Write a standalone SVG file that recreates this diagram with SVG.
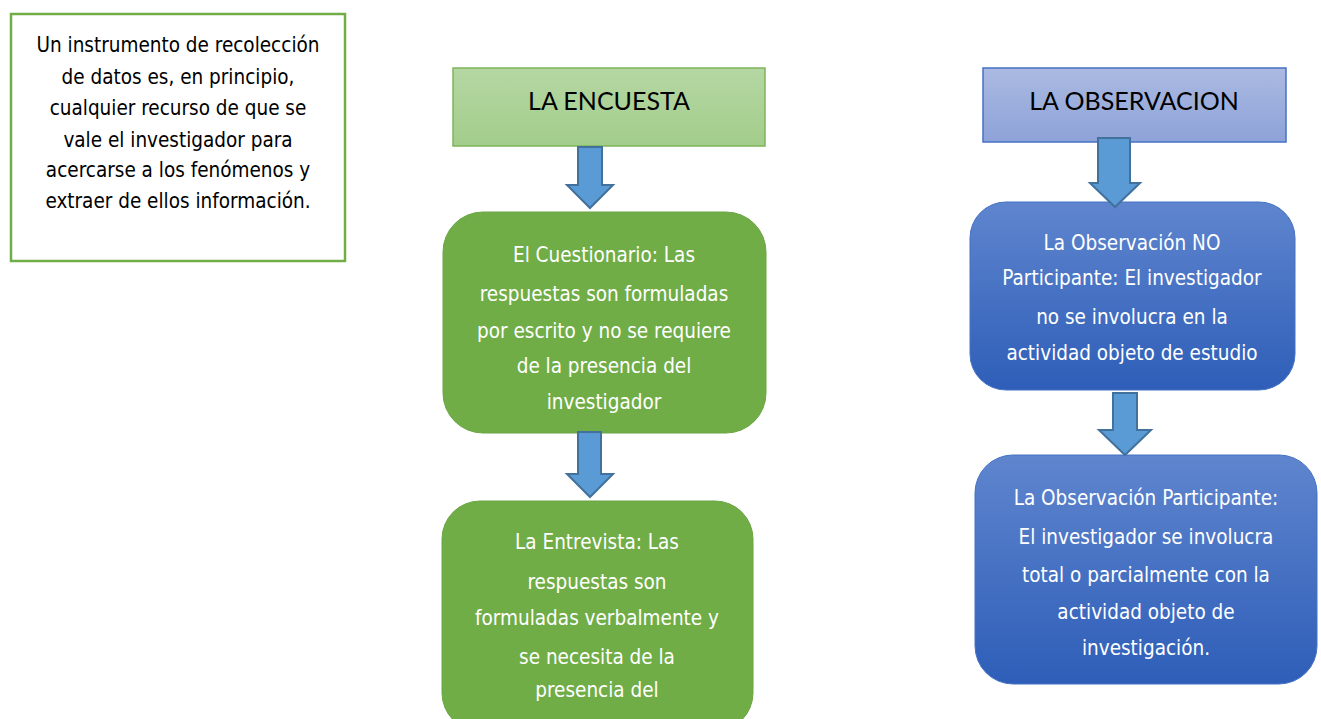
<svg xmlns="http://www.w3.org/2000/svg" width="1321" height="719" viewBox="0 0 1321 719">
<defs>
<linearGradient id="gGreenHead" x1="0" y1="0" x2="0" y2="1"><stop offset="0" stop-color="#B5D7A3"/><stop offset="1" stop-color="#A3CD8B"/></linearGradient>
<linearGradient id="gBlueHead" x1="0" y1="0" x2="0" y2="1"><stop offset="0" stop-color="#ABBAE2"/><stop offset="1" stop-color="#8DA2D8"/></linearGradient>
<linearGradient id="gBlue" x1="0" y1="0" x2="0" y2="1"><stop offset="0" stop-color="#5F85CE"/><stop offset="1" stop-color="#2E5EB8"/></linearGradient>
</defs>
<style>
.cond{font-family:"Liberation Sans Narrow","DejaVu Sans Condensed","DejaVu Sans",sans-serif;font-stretch:condensed;text-anchor:middle;dominant-baseline:central}
.intro{font-size:20.5px;fill:#000}
.wt{font-size:20.5px;fill:#fff}
.head{font-family:"Lato","Open Sans",sans-serif;font-size:25px;fill:#000;text-anchor:middle;dominant-baseline:central}
.arrow{fill:#5B9BD5;stroke:#41719C;stroke-width:2;stroke-linejoin:miter}
</style>
<rect width="1321" height="719" fill="#fff"/>
<g id="intro">
<rect x="11" y="14" width="334" height="247" fill="#fff" stroke="#70AD47" stroke-width="2.5"/>
<text class="cond intro" x="178" y="45">Un instrumento de recolección</text>
<text class="cond intro" x="178" y="77">de datos es, en principio,</text>
<text class="cond intro" x="178" y="108">cualquier recurso de que se</text>
<text class="cond intro" x="178" y="140">vale el investigador para</text>
<text class="cond intro" x="178" y="170">acercarse a los fenómenos y</text>
<text class="cond intro" x="178" y="201">extraer de ellos información.</text>
</g>
<g id="encuesta">
<rect x="453" y="68" width="312" height="78" fill="url(#gGreenHead)" stroke="#7DB55A" stroke-width="1.5"/>
<text class="head" x="609" y="100">LA ENCUESTA</text>
</g>
<g id="cuestionario">
<rect x="443" y="212" width="323" height="221" rx="40" fill="#70AD47" stroke="#6AA544" stroke-width="1"/>
<text class="cond wt" x="604" y="255">El Cuestionario: Las</text>
<text class="cond wt" x="604" y="294">respuestas son formuladas</text>
<text class="cond wt" x="604" y="331">por escrito y no se requiere</text>
<text class="cond wt" x="604" y="366">de la presencia del</text>
<text class="cond wt" x="604" y="402">investigador</text>
</g>
<g id="entrevista">
<rect x="442" y="501" width="311" height="230" rx="38" fill="#70AD47" stroke="#6AA544" stroke-width="1"/>
<text class="cond wt" x="597" y="542">La Entrevista: Las</text>
<text class="cond wt" x="597" y="582">respuestas son</text>
<text class="cond wt" x="597" y="618">formuladas verbalmente y</text>
<text class="cond wt" x="597" y="657">se necesita de la</text>
<text class="cond wt" x="597" y="690">presencia del</text>
</g>
<g id="observacion">
<rect x="983" y="68" width="303" height="74" fill="url(#gBlueHead)" stroke="#4472C4" stroke-width="1.5"/>
<text class="head" x="1134" y="100">LA OBSERVACION</text>
</g>
<g id="noparticipante">
<rect x="970" y="202" width="325" height="188" rx="36" fill="url(#gBlue)" stroke="#4472C4" stroke-width="1"/>
<text class="cond wt" x="1132" y="243">La Observación NO</text>
<text class="cond wt" x="1132" y="278">Participante: El investigador</text>
<text class="cond wt" x="1132" y="317">no se involucra en la</text>
<text class="cond wt" x="1132" y="353">actividad objeto de estudio</text>
</g>
<g id="participante">
<rect x="975" y="455" width="342" height="229" rx="38" fill="url(#gBlue)" stroke="#4472C4" stroke-width="1"/>
<text class="cond wt" x="1146" y="498">La Observación Participante:</text>
<text class="cond wt" x="1146" y="537">El investigador se involucra</text>
<text class="cond wt" x="1146" y="575">total o parcialmente con la</text>
<text class="cond wt" x="1146" y="612">actividad objeto de</text>
<text class="cond wt" x="1146" y="648">investigación.</text>
</g>
<g id="connectors">
<path class="arrow" d="M578,147 H602 V185 H613 L590,208 L567,185 H578 Z"/>
<path class="arrow" d="M578,432 H601 V474 H613 L590,497 L567,474 H578 Z"/>
<path class="arrow" d="M1098,138 H1130 V183 H1140 L1115,207 L1090,183 H1098 Z"/>
<path class="arrow" d="M1113,393 H1137 V430 H1151 L1125,455 L1099,430 H1113 Z"/>
</g>
</svg>
